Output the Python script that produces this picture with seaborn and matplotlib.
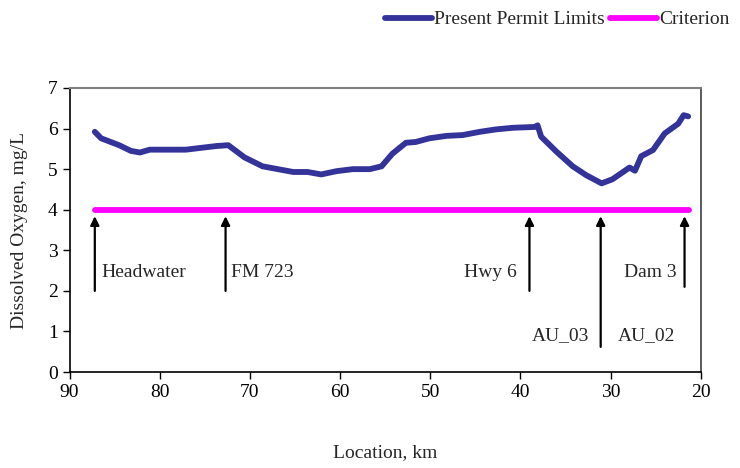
import numpy as np
import pandas as pd
import matplotlib
matplotlib.use("Agg")
import matplotlib.pyplot as plt
import seaborn as sns

# River profile (km from mouth, DO in mg/L)
location_km = [87.2, 86.5, 84.5, 83.2, 82.2, 81.1, 77.1, 75.6, 73.7, 72.4,
               70.6, 68.6, 65.2, 63.6, 62.1, 60.4, 58.6, 56.7, 55.4, 54.2,
               52.7, 51.6, 50.1, 48.2, 46.4, 44.5, 42.7, 40.8, 38.4, 38.1,
               37.7, 36.0, 34.2, 32.7, 31.0, 29.8, 27.9, 27.3, 26.6, 25.3,
               24.0, 22.5, 21.9, 21.4]
permit_do = [5.92, 5.76, 5.59, 5.45, 5.41, 5.48, 5.48, 5.52, 5.57, 5.59,
             5.29, 5.07, 4.93, 4.93, 4.87, 4.95, 5.00, 5.00, 5.07, 5.38,
             5.65, 5.67, 5.76, 5.82, 5.84, 5.92, 5.98, 6.02, 6.04, 6.08,
             5.80, 5.43, 5.07, 4.85, 4.65, 4.75, 5.04, 4.96, 5.32, 5.47,
             5.88, 6.12, 6.33, 6.30]

criterion_km = [87.2, 21.3]
criterion_do = [4.0, 4.0]

# landmarks along the river: arrow position and where the arrow starts
landmarks = ["Headwater", "FM 723", "Hwy 6", "AU", "Dam 3"]
landmark_km = [87.2, 72.7, 39.0, 31.1, 21.8]
arrow_tail = [2.0, 2.0, 2.0, 0.62, 2.1]

df = pd.DataFrame({"km": location_km, "do": permit_do})
crit = pd.DataFrame({"km": criterion_km, "do": criterion_do})

sns.set_style("ticks")
plt.rcParams["font.family"] = ["Liberation Serif", "DejaVu Serif"]

fig, ax = plt.subplots(figsize=(7.4, 4.68), dpi=100)
fig.subplots_adjust(left=0.094, right=0.947, bottom=0.205, top=0.812)

sns.lineplot(data=df, x="km", y="do", ax=ax, color="#333399", lw=4.2,
             label="Present Permit Limits", legend=False)
sns.lineplot(data=crit, x="km", y="do", ax=ax, color="#FF00FF", lw=4.2,
             label="Criterion", legend=False)

for km, tail in zip(landmark_km, arrow_tail):
    ax.annotate("", xy=(km, 3.84), xytext=(km, tail),
                arrowprops=dict(arrowstyle="-|>", color="black", lw=1.6,
                                mutation_scale=13, shrinkA=0, shrinkB=0))

text_opts = dict(textcoords="offset points", va="center", fontsize=14)
ax.annotate("Headwater", xy=(87.2, 2.45), xytext=(5, 0), ha="left", **text_opts)
ax.annotate("FM 723", xy=(72.7, 2.45), xytext=(4, 0), ha="left", **text_opts)
ax.annotate("Hwy 6", xy=(39.0, 2.45), xytext=(-9, 0), ha="right", **text_opts)
ax.annotate("AU_03", xy=(31.1, 0.9), xytext=(-8, 0), ha="right", **text_opts)
ax.annotate("AU_02", xy=(31.1, 0.9), xytext=(12, 0), ha="left", **text_opts)
ax.annotate("Dam 3", xy=(21.8, 2.45), xytext=(-6, 0), ha="right", **text_opts)

ax.set_xlim(90, 20)
ax.set_ylim(0, 7)
ax.set_xticks(np.arange(90, 19, -10))
ax.set_yticks(np.arange(0, 8, 1))
ax.tick_params(axis="both", labelsize=14, length=5, width=1, colors="black",
               direction="out")
ax.set_xlabel("Location, km", fontsize=14, labelpad=31)
ax.set_ylabel("Dissolved Oxygen, mg/L", fontsize=14, labelpad=14)

for side in ["left", "bottom"]:
    ax.spines[side].set_color("black")
    ax.spines[side].set_linewidth(1.2)
ax.spines["top"].set_visible(True)
ax.spines["right"].set_visible(True)
ax.spines["top"].set_color("#808080")
ax.spines["right"].set_color("#404040")
ax.spines["top"].set_linewidth(1.5)
ax.spines["right"].set_linewidth(1.2)

handles, labels = ax.get_legend_handles_labels()
fig.legend(handles, labels, loc="upper right", bbox_to_anchor=(1.0, 1.0),
           ncol=2, frameon=False, fontsize=14, handlelength=2.4,
           handletextpad=0.1, columnspacing=0.3, borderaxespad=0.15)

fig.savefig("out.png", dpi=100)
